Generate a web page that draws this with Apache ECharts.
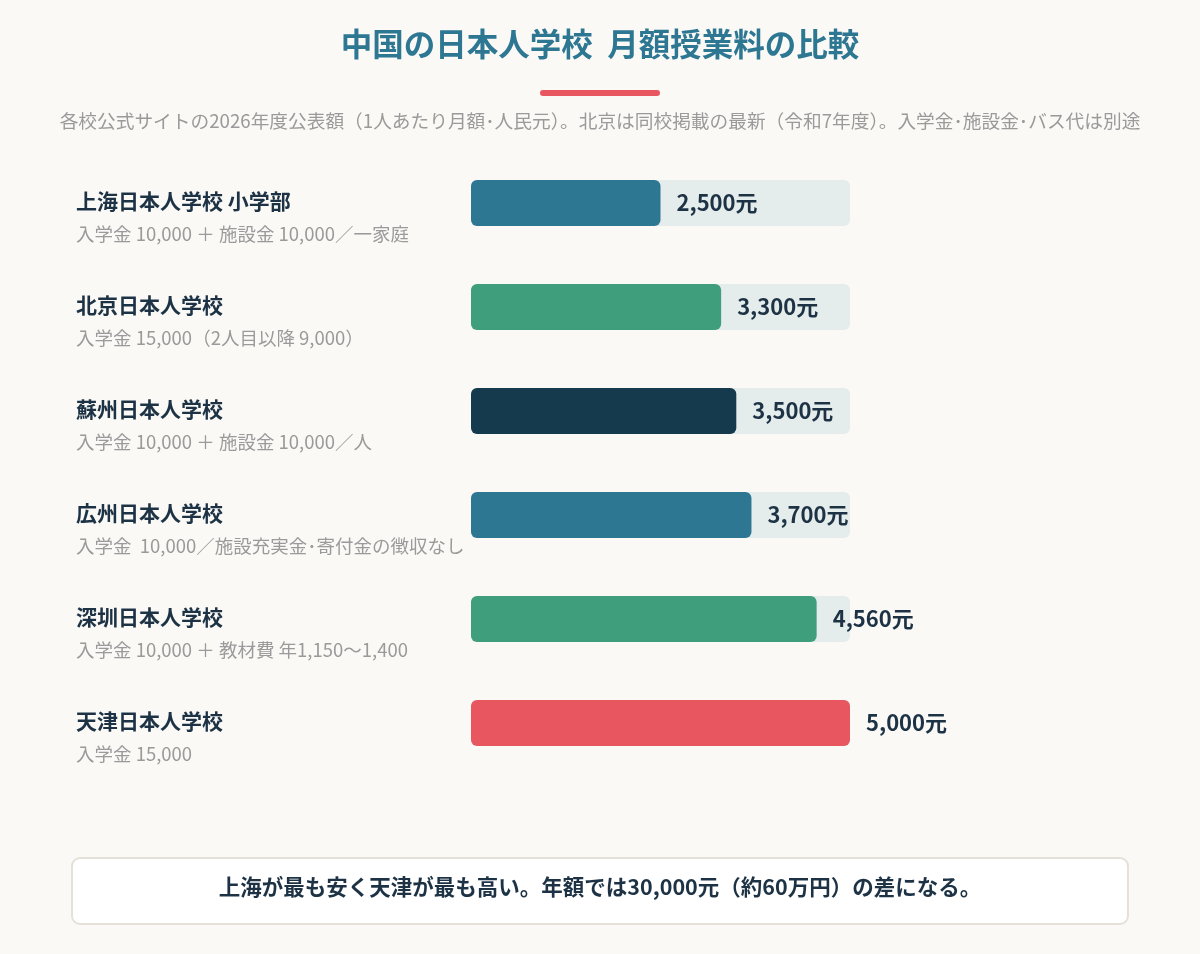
<!DOCTYPE html>
<html><head><meta charset="utf-8">
<script src="https://cdn.jsdelivr.net/npm/echarts@6/dist/echarts.min.js"></script>
<style>html,body{margin:0;padding:0;background:#faf9f6;}#c{width:1200px;height:954px;}</style>
</head><body><div id="c"></div>
<script>
const schools = ['上海日本人学校 小学部','北京日本人学校','蘇州日本人学校','広州日本人学校','深圳日本人学校','天津日本人学校'];
const notes = ['入学金 10,000 ＋ 施設金 10,000／一家庭','入学金 15,000（2人目以降 9,000）','入学金 10,000 ＋ 施設金 10,000／人','入学金  10,000／施設充実金･寄付金の徴収なし','入学金 10,000 ＋ 教材費 年1,150〜1,400','入学金 15,000'];
const fees = [2500, 3300, 3500, 3700, 4560, 5000];
const barColors = ['#2e7793','#3f9e7c','#153a4e','#2e7793','#3f9e7c','#e85760'];
const titleText = '中国の日本人学校  月額授業料の比較';
const subText = '各校公式サイトの2026年度公表額（1人あたり月額･人民元）。北京は同校掲載の最新（令和7年度）。入学金･施設金･バス代は別途';
const noteText = '上海が最も安く天津が最も高い。年額では30,000元（約60万円）の差になる。';

const FONT = '"Noto Sans CJK JP", "Noto Sans", sans-serif';
const chart = echarts.init(document.getElementById('c'));
chart.setOption({
  backgroundColor: '#faf9f6',
  textStyle: {fontFamily: FONT},
  title: [
    {text: titleText, left: 'center', top: 23, textStyle: {fontFamily: FONT, fontSize: 31.5, fontWeight: 'bold', color: '#2e7793'}},
    {text: subText, left: 'center', top: 107, textStyle: {fontFamily: FONT, fontSize: 18.7, fontWeight: 'normal', color: '#9a9a9a'}}
  ],
  grid: {left: 471, right: 350, top: 151, bottom: 179},
  xAxis: {type: 'value', min: 0, max: 5000, show: false},
  yAxis: {
    type: 'category', data: schools, inverse: true,
    axisLine: {show: false}, axisTick: {show: false},
    axisLabel: {
      align: 'left', margin: 395, padding: [34, 0, 0, 0],
      formatter: (v, i) => '{n|' + v + '}\n{s|' + notes[i] + '}',
      rich: {
        n: {fontFamily: FONT, fontSize: 21, fontWeight: 'bold', color: '#1d3345', lineHeight: 28},
        s: {fontFamily: FONT, fontSize: 18.5, color: '#9a9a9a', lineHeight: 38}
      }
    }
  },
  series: [{
    type: 'bar', barWidth: 46,
    data: fees.map((v, i) => ({value: v, itemStyle: {color: barColors[i]}})),
    itemStyle: {borderRadius: 6},
    showBackground: true,
    backgroundStyle: {color: '#e5ecec', borderRadius: 6},
    label: {show: true, position: 'right', distance: 16, fontFamily: FONT, fontSize: 22, fontWeight: 'bold', color: '#1d3345',
      formatter: p => p.value.toLocaleString('en-US') + '元'},
    silent: true
  }],
  graphic: [
    {type: 'rect', shape: {x: 540, y: 90, width: 120, height: 6, r: 3}, style: {fill: '#e85760'}},
    {type: 'rect', shape: {x: 72, y: 858, width: 1056, height: 66, r: 8}, style: {fill: '#ffffff', stroke: '#e5e0d8', lineWidth: 2}},
    {type: 'text', x: 600, y: 887, style: {text: noteText, x: 0, y: 0, textAlign: 'center', textVerticalAlign: 'middle', font: 'bold 21.5px ' + FONT, fill: '#1d3345'}}
  ]
});
</script></body></html>
